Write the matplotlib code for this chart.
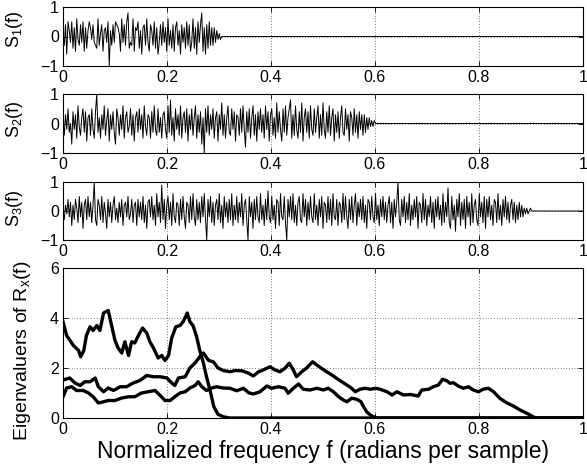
import numpy as np
import matplotlib
matplotlib.use("Agg")
import matplotlib.pyplot as plt

plt.rcParams['font.family'] = ['Liberation Sans', 'DejaVu Sans']
plt.rcParams['mathtext.fontset'] = 'custom'
plt.rcParams['mathtext.rm'] = 'Liberation Sans'

# ==========================================
# DATA (values in tenths for the source spectra)
# ==========================================
n_full = 417  # frequency grid 0..1

s1_tenths = [
    0, -3, 4, -6, 5, 2, -2, 5, -4, 3, -5, 6, -1, -3, 4, -2, 5, -5, 3, -4,
    2, 5, 3, -1, 4, -2, -3, -4, 6, -3, 1, 4, -5, 2, 3, -2, 5, -10, 2, -3,
    4, -2, 5, 4, 3, 1, -5, 6, -2, 4, -3, 5, 8, -4, -2, -3, 6, -5, 3, 2,
    5, -4, 2, -6, 3, 4, -3, 6, -2, -5, 4, 2, -3, 5, -4, 3, -6, -2, 4, -3,
    5, -2, 3, -5, 6, -3, 2, -4, 4, -5, 3, 5, -3, 2, -6, 4, -2, 3, -4, 5,
    -3, 4, -5, -2, 6, -4, 3, -6, 5, -2, 4, 8, -5, 3, -6, 4, -4, 5, -3, 3,
    -3, 3, -2, 2, -1, 1, -1, 0, 0, 0,
]

s2_tenths = [
    1, -4, 3, -2, 5, -3, 0, -7, 4, -2, 3, -5, 6, -1, -4, 2, 5, -3, 4, -6,
    2, 3, -4, 5, -2, -5, 4, 10, -3, 2, -5, 3, -2, 6, -4, 1, 5, -6, 3, -2,
    4, -3, -7, 5, 2, -4, 3, -2, 6, -5, 2, 4, -3, -1, 5, -4, 3, -6, 2, 4,
    -3, 5, -2, 3, -5, 6, -1, -4, 3, 2, -5, 4, -3, 6, -2, -4, 5, -3, 2, -5,
    3, 4, -2, -5, 6, -3, 8, -4, 2, -6, 5, -2, 3, -4, 6, -5, 2, 4, -3, 5,
    -6, 3, -2, 5, -4, 2, 6, -5, 3, -3, 4, -7, 2, -10, 5, -3, 6, -4, 3, -2,
    5, -5, 2, 4, -6, 3, -2, 7, -4, 3, -5, 2, 6, -3, -4, 5, -2, 4, -6, 3,
    2, -4, 5, -3, 6, -2, -8, 4, -3, 5, -5, 2, 6, -4, 3, -6, 4, -2, 5, -3,
    3, -5, 6, -2, 4, -6, 3, 5, -4, 2, -5, 7, -3, 4, -2, -6, 5, -3, 6, -4,
    2, 5, 8, -5, 3, -4, 6, -2, -5, 4, -3, 7, -6, 2, 5, -3, 4, -5, 6, -2,
    -4, 5, -3, 2, 6, -5, 3, -4, 7, -2, -5, 4, -3, 6, -4, 2, 5, -6, 3, -3,
    4, -5, 2, 6, -3, -4, 5, -2, 3, -6, 4, 2, -4, 5, -3, 3, -5, 4, -2, 3,
    -4, 3, -3, 2, -2, 2, -1, 1, -1, 1, 0, 0,
]

s3_tenths = [
    0, -3, 2, -1, 4, -2, 3, -5, 2, -3, 4, 1, -4, 5, -2, 3, -6, 2, 4, -3,
    5, -2, 3, -4, 2, 10, -3, -5, 4, 2, -3, 5, -4, 3, -1, -6, 4, -2, 3, -4,
    2, 5, -3, 1, -4, 3, -2, 4, -5, 2, 3, -2, 5, -3, -1, 4, -4, 2, 3, -5,
    4, -2, 3, -3, 5, -4, 2, -6, 3, 4, -2, 5, -3, 2, -5, 6, -2, 3, -4, 9,
    -3, 4, -6, 2, 5, -3, 3, -5, 6, -2, -4, 3, 2, -5, 4, -3, 5, -2, -6, 3,
    2, -4, 5, -3, 6, -2, -5, 4, -3, 3, -4, 5, -2, 6, -3, -10, 4, -2, 5, -4,
    3, -5, 2, 4, -3, 6, -4, 2, -6, 5, -2, 3, -4, 4, -3, 6, -5, 2, -3, 5,
    -4, 3, -2, 6, -5, 2, 4, -3, -10, 5, -2, 3, -6, 4, -3, 5, -2, -4, 6, -3,
    2, -5, 4, -3, 7, -2, -4, 5, -3, 2, -6, 4, 3, -5, 6, -2, -3, 5, -4, -10,
    4, -2, 5, -3, 6, -4, 2, -5, 3, 5, -3, -4, 6, -2, 4, -5, 3, -3, 5, -2,
    -4, 6, -3, 2, -5, 4, -2, 5, -6, 3, 2, -4, 5, -3, 4, -5, 6, -2, -3, 4,
    -5, 3, 2, -4, 6, -3, 5, -2, -6, 4, -3, 5, -4, 2, 6, -5, 3, -2, 4, -3,
    5, -4, 2, -6, 4, 3, -3, 5, -2, -4, 6, -3, 2, -5, 4, -2, 5, -3, 3, -4,
    2, 5, -4, 3, -6, 4, -2, 3, 10, -3, -5, 4, -2, 5, -4, 3, -3, 6, -5, 2,
    -3, 4, -2, 5, -6, 3, 2, -4, 6, -3, 4, -5, 2, -2, 5, -4, 3, -6, 4, -2,
    5, -3, 2, -5, 6, -4, 3, -2, 8, -4, -6, 5, -3, 2, -7, 4, -2, 6, -5, 3,
    -3, 4, -6, 5, -2, 3, -5, 6, -4, 2, 4, -3, -5, 6, -2, 3, -4, 5, -6, 4,
    -2, 5, -3, 2, -5, 4, 3, -4, 6, -3, 2, -5, 4, -2, 5, -3, 3, -4, 2, 4,
    -3, 3, -4, 2, -3, 3, -2, 2, -2, 1, -1, 1, -1, 0, 1, 0, 0,
]

# eigenvalue curves
eig1_f = [0, 0.007, 0.02, 0.03, 0.034, 0.04, 0.045, 0.052, 0.058, 0.065, 0.071, 0.078,
          0.087, 0.094, 0.1, 0.106, 0.113, 0.119, 0.126, 0.132, 0.138, 0.145, 0.153,
          0.161, 0.167, 0.174, 0.183, 0.19, 0.196, 0.203, 0.209, 0.217, 0.225, 0.231,
          0.239, 0.244, 0.25, 0.257, 0.263, 0.27, 0.276, 0.284, 0.29, 0.298, 0.308,
          0.32, 1.0]
eig1_v = [3.85, 3.3, 2.9, 2.7, 2.45, 2.7, 3.3, 3.65, 3.5, 3.7, 3.5, 4.2,
          4.3, 3.65, 3.1, 2.8, 2.6, 3.05, 2.5, 3.05, 3.0, 3.3, 3.6,
          3.4, 3.05, 2.8, 2.4, 2.5, 2.3, 2.5, 3.2, 3.65, 3.7, 3.85,
          4.2, 3.85, 3.7, 3.25, 2.7, 2.2, 1.65, 1.0, 0.45, 0.15, 0.05,
          0, 0]

eig2_f = [0, 0.013, 0.023, 0.033, 0.042, 0.052, 0.062, 0.068, 0.078, 0.087, 0.097,
          0.11, 0.122, 0.135, 0.148, 0.161, 0.174, 0.187, 0.2, 0.209, 0.215, 0.222,
          0.235, 0.244, 0.254, 0.263, 0.27, 0.28, 0.289, 0.298, 0.308, 0.321, 0.331,
          0.344, 0.357, 0.366, 0.376, 0.385, 0.398, 0.408, 0.417, 0.427, 0.435,
          0.443, 0.449, 0.459, 0.468, 0.48, 0.488, 0.497, 0.507, 0.517, 0.526,
          0.536, 0.546, 0.555, 0.562, 0.571, 0.581, 0.591, 0.601, 0.61, 0.623,
          0.633, 0.642, 0.655, 0.668, 0.683, 0.69, 0.703, 0.712, 0.722, 0.73,
          0.738, 0.744, 0.751, 0.76, 0.77, 0.78, 0.789, 0.799, 0.808, 0.818,
          0.828, 0.84, 0.853, 0.866, 0.879, 0.892, 0.904, 0.91, 1.0]
eig2_v = [1.52, 1.6, 1.4, 1.3, 1.45, 1.45, 1.6, 1.25, 1.05, 1.2, 1.1,
          1.25, 1.25, 1.4, 1.5, 1.7, 1.65, 1.65, 1.6, 1.4, 1.3, 1.6,
          1.65, 2.0, 2.2, 2.45, 2.6, 2.3, 2.25, 2.0, 1.9, 1.85, 1.9,
          1.89, 1.79, 1.68, 1.85, 1.92, 2.05, 1.92, 1.85, 1.99, 2.19,
          1.92, 1.65, 1.85, 1.99, 2.25, 2.12, 1.99, 1.85, 1.72, 1.59,
          1.45, 1.32, 1.19, 1.05, 1.15, 1.19, 1.15, 1.19, 1.15, 1.05,
          0.92, 1.05, 0.92, 0.94, 0.88, 1.12, 1.15, 1.25, 1.32, 1.55,
          1.49, 1.39, 1.41, 1.28, 1.19, 1.25, 1.12, 1.05, 1.15, 1.19,
          1.05, 0.79, 0.61, 0.48, 0.32, 0.19, 0.05, 0, 0]

eig3_f = [0, 0.007, 0.017, 0.026, 0.039, 0.049, 0.058, 0.068, 0.078, 0.087, 0.1,
          0.113, 0.126, 0.138, 0.151, 0.164, 0.177, 0.187, 0.196, 0.206, 0.215,
          0.225, 0.235, 0.244, 0.254, 0.26, 0.267, 0.276, 0.286, 0.295, 0.308,
          0.321, 0.334, 0.347, 0.357, 0.366, 0.379, 0.392, 0.401, 0.414, 0.427,
          0.433, 0.443, 0.453, 0.462, 0.475, 0.488, 0.501, 0.51, 0.52, 0.53,
          0.539, 0.546, 0.555, 0.565, 0.573, 0.578, 0.584, 0.591, 0.597, 0.604, 1.0]
eig3_v = [0.85, 1.2, 1.25, 1.1, 1.1, 1.0, 0.85, 0.6, 0.65, 0.7, 0.7,
          0.8, 0.85, 0.85, 1.0, 1.05, 1.1, 0.9, 0.7, 0.7, 0.85,
          1.0, 1.05, 1.2, 1.3, 1.45, 1.25, 1.1, 1.2, 1.25, 1.2,
          1.19, 1.09, 1.19, 1.01, 0.96, 1.05, 1.28, 1.19, 1.25, 1.19,
          0.99, 1.19, 1.36, 1.15, 1.12, 1.19, 1.12, 1.19, 1.05, 0.85,
          0.72, 0.65, 0.79, 0.75, 0.65, 0.45, 0.25, 0.12, 0.05, 0, 0]

x_ticks = [0, 0.2, 0.4, 0.6, 0.8, 1]
x_ticklabels = ['0', '0.2', '0.4', '0.6', '0.8', '1']
s_yticks = [-1, 0, 1]
s_yticklabels = ['\u22121', '0', '1']
eig_yticks = [0, 2, 4, 6]
s_labels = ['S$_\\mathrm{1}$(f)', 'S$_\\mathrm{2}$(f)', 'S$_\\mathrm{3}$(f)']

# ==========================================
# FIGURE
# ==========================================
fig = plt.figure(figsize=(5.87, 4.7), dpi=100)
left, width = 63 / 587, 520 / 587
panel_boxes = [(7, 66), (94, 153), (182, 240)]


def style_axes(ax):
    ax.set_xlim(0, 1)
    ax.set_xticks(x_ticks)
    ax.set_xticklabels(x_ticklabels)
    ax.tick_params(direction='in', top=True, right=True, length=3.5,
                   labelsize=11.5, pad=3, width=0.6)
    ax.grid(True, color='k', linestyle=(0, (1, 3)), linewidth=0.5)
    for sp in ax.spines.values():
        sp.set_linewidth(0.8)


f_grid = np.arange(n_full) / (n_full - 1)
s_label_y = [0.62, 0.58, 0.55]
for k, (vals, (top, bot)) in enumerate(zip([s1_tenths, s2_tenths, s3_tenths], panel_boxes)):
    ax = fig.add_axes([left, 1 - bot / 470, width, (bot - top) / 470])
    sig = np.zeros(n_full)
    sig[:len(vals)] = np.array(vals) / 10.0
    ax.plot(f_grid, sig, color='k', linewidth=0.7)
    style_axes(ax)
    ax.set_ylim(-1, 1)
    ax.set_yticks(s_yticks)
    ax.set_yticklabels(s_yticklabels)
    ax.set_ylabel(s_labels[k], fontsize=13)
    ax.yaxis.set_label_coords(-0.074, s_label_y[k])

ax = fig.add_axes([left, 1 - 418 / 470, width, 150 / 470])
for fx, vy in [(eig1_f, eig1_v), (eig2_f, eig2_v), (eig3_f, eig3_v)]:
    ax.plot(fx, vy, color='k', linewidth=2.4, solid_joinstyle='round')
style_axes(ax)
ax.set_ylim(0, 6)
ax.set_yticks(eig_yticks)
ax.set_ylabel('Eigenvaluers of R$_\\mathrm{x}$(f)', fontsize=14)
ax.yaxis.set_label_coords(-0.058, 0.45)
ax.set_xlabel('Normalized frequency f (radians per sample)', fontsize=16.5, labelpad=2)

fig.savefig('out.png', dpi=100)
